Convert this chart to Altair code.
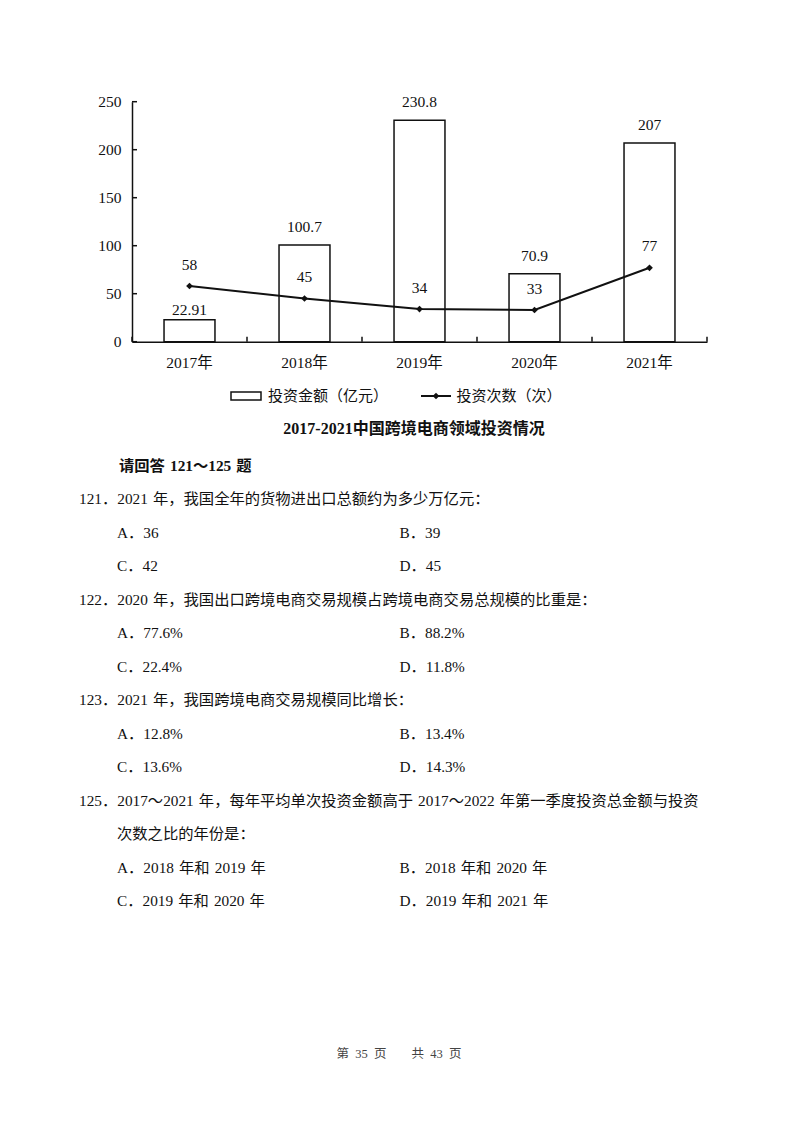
import altair as alt
import pandas as pd

# ---------------- data ----------------
years = ["2017年", "2018年", "2019年", "2020年", "2021年"]
amount = [22.91, 100.7, 230.8, 70.9, 207]          # 投资金额（亿元）
count = [58, 45, 34, 33, 77]                        # 投资次数（次）
y_ticks = [0, 50, 100, 150, 200, 250]

legend_amount = "投资金额（亿元）"
legend_count = "投资次数（次）"
chart_title = "2017-2021中国跨境电商领域投资情况"
header = "请回答 121～125 题"

q_lines = [
    "121．2021 年，我国全年的货物进出口总额约为多少万亿元：",
    "122．2020 年，我国出口跨境电商交易规模占跨境电商交易总规模的比重是：",
    "123．2021 年，我国跨境电商交易规模同比增长：",
    "125．2017～2021 年，每年平均单次投资金额高于 2017～2022 年第一季度投资总金额与投资",
]
q125_cont = "次数之比的年份是："
options = [
    ["A．36", "B．39", "C．42", "D．45"],
    ["A．77.6%", "B．88.2%", "C．22.4%", "D．11.8%"],
    ["A．12.8%", "B．13.4%", "C．13.6%", "D．14.3%"],
    ["A．2018 年和 2019 年", "B．2018 年和 2020 年", "C．2019 年和 2020 年", "D．2019 年和 2021 年"],
]
footer = "第 35 页   共 43 页"

# ---------------- layout ----------------
W, H = 575, 240
OX, OY = 132, 101.7        # page position of plot origin
FONT = "Liberation Serif, Noto Sans CJK SC"
EN = "\u2002"
THIN = "\u2004"


def px(x):
    return x - OX


def py(y):
    return y - OY


def wide(s):
    # slightly wider spaces like the original typesetting
    return s.replace(" ", THIN)


df = pd.DataFrame({
    "year": years,
    "amount": amount,
    "count": count,
    "amount_label": [str(v) for v in amount],
    "count_label": [str(v) for v in count],
})

xenc = alt.X("year:N", sort=years,
             scale=alt.Scale(paddingInner=0, paddingOuter=0),
             axis=alt.Axis(title=None, labelAngle=0, ticks=False, tickSize=0,
                           labelFont=FONT, labelFontSize=15.5, labelColor="#111",
                           labelPadding=14, domainColor="#111", domainWidth=1.5,
                           grid=False))
yscale = alt.Scale(domain=[0, 250], nice=False)

base = alt.Chart(df)

bars = base.mark_bar(width={"band": 0.443}, fill="white", stroke="#111",
                     strokeWidth=1.5).encode(
    x=xenc,
    y=alt.Y("amount:Q", scale=yscale,
            axis=alt.Axis(title=None, values=y_ticks, ticks=False, tickSize=0,
                          labelFont=FONT, labelFontSize=15.5, labelColor="#111",
                          labelPadding=11, domainColor="#111", domainWidth=1.5,
                          grid=False)),
)

bar_labels_hi = base.transform_filter(alt.datum.amount >= 30).mark_text(
    font=FONT, fontSize=15.5, color="#111", baseline="middle", dy=-18).encode(
    x=alt.X("year:N", sort=years),
    y=alt.Y("amount:Q", scale=yscale),
    text="amount_label:N",
)
bar_labels_lo = base.transform_filter(alt.datum.amount < 30).mark_text(
    font=FONT, fontSize=15.5, color="#111", baseline="middle", dy=-9.5).encode(
    x=alt.X("year:N", sort=years),
    y=alt.Y("amount:Q", scale=yscale),
    text="amount_label:N",
)

line = base.mark_line(color="#111", strokeWidth=2).encode(
    x=alt.X("year:N", sort=years),
    y=alt.Y("count:Q", scale=yscale),
)
points = base.mark_point(shape="diamond", filled=True, color="#111", size=45,
                         opacity=1).encode(
    x=alt.X("year:N", sort=years),
    y=alt.Y("count:Q", scale=yscale),
)
line_labels = base.mark_text(font=FONT, fontSize=15.5, color="#111",
                             baseline="middle", dy=-21.5).encode(
    x=alt.X("year:N", sort=years),
    y=alt.Y("count:Q", scale=yscale),
    text="count_label:N",
)

# inward ticks
ytick_df = pd.DataFrame({"v": y_ticks})
yticks = alt.Chart(ytick_df).mark_rule(color="#111", strokeWidth=1.5).encode(
    y=alt.Y("v:Q", scale=yscale),
    x=alt.value(0), x2=alt.value(5),
)
xticks = base.mark_rule(color="#111", strokeWidth=1.5).encode(
    x=alt.X("year:N", sort=years, bandPosition=0),
    y=alt.value(H - 5), y2=alt.value(H),
)
xtick_end = base.transform_filter(alt.datum.year == years[-1]).mark_rule(
    color="#111", strokeWidth=1.5).encode(
    x=alt.X("year:N", sort=years, bandPosition=1),
    y=alt.value(H - 5), y2=alt.value(H),
)


def one(s):
    return alt.Chart(pd.DataFrame({"t": [s]}))


def txt(s, x, y, size=15.3, weight="normal", align="left", color="#111", font=FONT):
    return one(s).mark_text(align=align, baseline="middle", font=font,
                            fontSize=size, fontWeight=weight, color=color).encode(
        x=alt.value(px(x)), y=alt.value(py(y)), text="t:N")


# legend
leg_rect = one("r").mark_rect(fill="white", stroke="#111", strokeWidth=1.5).encode(
    x=alt.value(px(231)), x2=alt.value(px(261)),
    y=alt.value(py(392)), y2=alt.value(py(400)),
)
leg_line = one("l").mark_rule(color="#111", strokeWidth=2).encode(
    x=alt.value(px(421)), x2=alt.value(px(451)), y=alt.value(py(396)),
)
leg_pt = one("p").mark_point(shape="diamond", filled=True, color="#111", size=45,
                             opacity=1).encode(
    x=alt.value(px(436)), y=alt.value(py(396)),
)

layers = [bars, yticks, xticks, xtick_end, line, points, bar_labels_hi,
          bar_labels_lo, line_labels,
          leg_rect, leg_line, leg_pt,
          txt(legend_amount, 268, 396, size=15),
          txt(legend_count, 456.5, 396, size=15),
          txt(chart_title, 414, 428.5, size=16, weight="bold", align="center"),
          txt(wide(header), 119, 465.5, size=15.3, weight="bold")]

row_y = 499
step = 33.5
for i, q in enumerate(q_lines):
    layers.append(txt(wide(q), 79, row_y))
    row_y += step
    if i == 3:
        layers.append(txt(q125_cont, 117, row_y))
        row_y += step
    opts = options[i]
    layers.append(txt(wide(opts[0]), 117, row_y))
    layers.append(txt(wide(opts[1]), 399.5, row_y))
    row_y += step
    layers.append(txt(wide(opts[2]), 117, row_y))
    layers.append(txt(wide(opts[3]), 399.5, row_y))
    row_y += step

footer_txt = footer.replace("   ", "\u2003\u2003").replace(" ", EN)
layers.append(txt(footer_txt, 399, 1054, size=12.5, align="center", color="#444"))

chart = alt.layer(*layers).properties(
    width=W, height=H,
    autosize=alt.AutoSizeParams(type="none"),
    padding={"left": OX - 8, "top": OY - 8, "right": 800 - 16 - (OX - 8) - W,
             "bottom": 1124 - 16 - (OY - 8) - H},
    background="white",
).configure_view(stroke=None)

chart.save("out.html", embed_options={"renderer": "svg", "actions": False})
